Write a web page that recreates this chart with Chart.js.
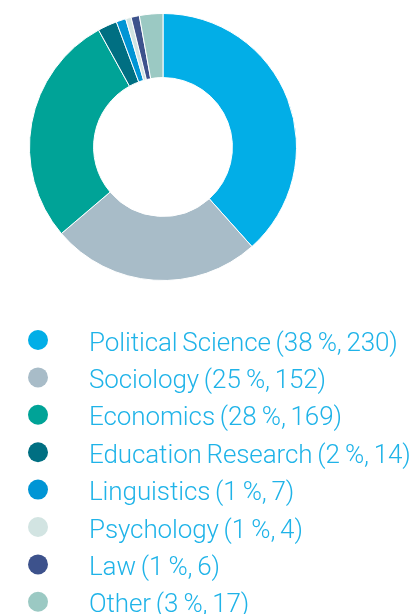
<!DOCTYPE html>
<html>
<head>
<meta charset="utf-8">
<script src="https://cdn.jsdelivr.net/npm/chart.js@4"></script>
<style>
  html, body { margin: 0; padding: 0; background: #fff; }
  #wrap { width: 411px; height: 614px; position: relative; }
</style>
</head>
<body>
<div id="wrap"><canvas id="pie-chartcanvas"></canvas></div>
<script>
var labels = ["Political Science", "Sociology", "Economics", "Education Research", "Linguistics", "Psychology", "Law", "Other"];
var counts = [230, 152, 169, 14, 7, 4, 6, 17];
var colors = ["#02AEE7", "#A8BCC8", "#00A397", "#006F82", "#0095D5", "#D2E4E2", "#3D528C", "#9BC9C3"];

var total = counts.reduce(function(a, b){ return a + b; }, 0);

// legend drawn below the ring, one item per row
var listLegend = {
    id: "listLegend",
    afterDraw: function(chart) {
        var ctx = chart.ctx;
        var lbls = chart.data.labels;
        var ds = chart.data.datasets[0];
        ctx.save();
        ctx.font = "300 26px Roboto";
        ctx.letterSpacing = "-0.1px";
        ctx.wordSpacing = "-1.5px";
        ctx.textBaseline = "alphabetic";
        for (var i = 0; i < lbls.length; i++) {
            var y = 340 + i * 37.4;
            ctx.beginPath();
            ctx.arc(38, y, 10, 0, Math.PI * 2);
            ctx.fillStyle = ds.backgroundColor[i];
            ctx.fill();
            var pct = Math.round(ds.data[i] / total * 100);
            ctx.fillStyle = "#1FB3E8";
            ctx.fillText(lbls[i] + " (" + pct + "\u2009%, " + ds.data[i] + ")", 89, y + 10.5);
        }
        ctx.restore();
    }
};

var ctx1 = document.getElementById("pie-chartcanvas");
var chart1 = new Chart(ctx1, {
    type: "doughnut",
    data: {
        labels: labels,
        datasets: [{
            data: counts,
            backgroundColor: colors,
            borderColor: "#ffffff",
            borderWidth: 1
        }]
    },
    options: {
        responsive: true,
        maintainAspectRatio: false,
        animation: false,
        cutout: "52%",
        layout: { padding: { left: 29, right: 114, top: 13, bottom: 333 } },
        plugins: {
            legend: { display: false },
            tooltip: { enabled: false }
        }
    },
    plugins: [listLegend]
});
</script>
</body>
</html>
